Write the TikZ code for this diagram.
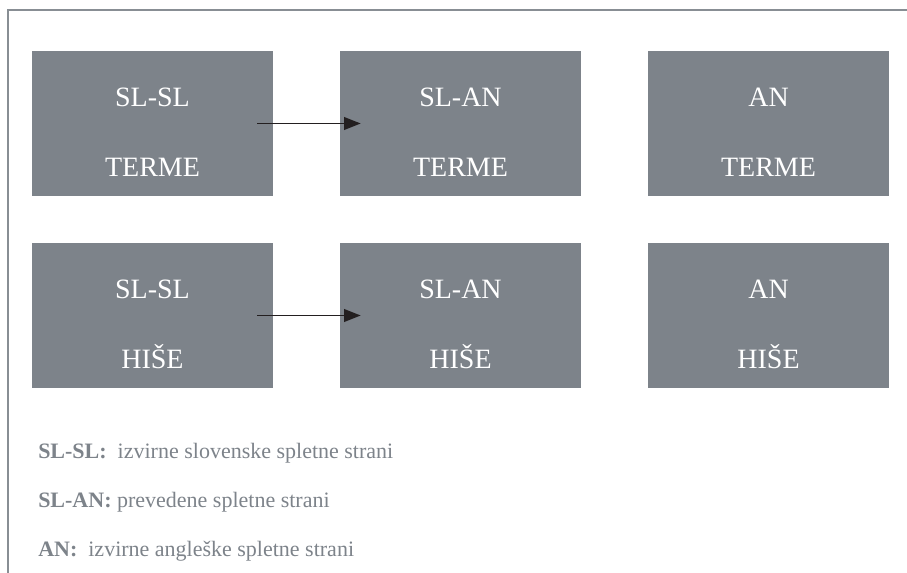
\documentclass[tikz,border=0pt]{standalone}
\usepackage{fontspec}
\setmainfont{Liberation Serif}
\usepackage{tikz}
\usetikzlibrary{arrows.meta}

\definecolor{boxgray}{RGB}{125,131,138}
\definecolor{framegray}{RGB}{136,142,148}
\definecolor{arrowblack}{RGB}{35,31,32}

\tikzset{
    termbox/.style={fill=boxgray, minimum width=180.75pt, minimum height=108.75pt, inner sep=0pt},
    boxlabel/.style={text=white, font=\fontsize{21}{24}\selectfont, anchor=base, inner sep=0pt},
    legend/.style={text=boxgray, font=\fontsize{16.5}{19}\selectfont, anchor=base west, inner sep=0pt},
    link/.style={draw=arrowblack, line width=1.4pt, -{Triangle[length=12.5pt,width=9.5pt]}}
}

\begin{document}
\begin{tikzpicture}[x=0.75pt,y=-0.75pt]
                  \useasboundingbox (0,0) rectangle (907,573);
                  % frame
                  \draw[framegray, line width=1.8pt] (8,573) -- (8,10) -- (907,10);
                  % boxes
                  \node[termbox] (t1) at (152.5,123.5) {};
                  \node[termbox] (t2) at (460.5,123.5) {};
                  \node[termbox] (t3) at (768.5,123.5) {};
                  \node[termbox] (h1) at (152.5,315.5) {};
                  \node[termbox] (h2) at (460.5,315.5) {};
                  \node[termbox] (h3) at (768.5,315.5) {};
                  \foreach \n/\a/\b in {t1/SL-SL/TERME, t2/SL-AN/TERME, t3/AN/TERME,
                                        h1/SL-SL/HIŠE, h2/SL-AN/HIŠE, h3/AN/HIŠE} {
                      \node[boxlabel] (\n-top) at ([yshift=-42pt]\n.north) {\a};
                      \node[boxlabel] (\n-bot) at ([yshift=-94.5pt]\n.north) {\b};
                  }
                  % arrows
                  \draw[link] ([xshift=-12pt]t1.east) -- ([xshift=15.75pt]t2.west);
                  \draw[link] ([xshift=-12pt]h1.east) -- ([xshift=15.75pt]h2.west);
                  % legend
                  \node[legend] (leg1) at (38,459) {\textbf{SL-SL:}\ \ izvirne slovenske spletne strani};
                  \node[legend] (leg2) at (38,508) {\textbf{SL-AN:} prevedene spletne strani};
                  \node[legend] (leg3) at (38,556) {\textbf{AN:}\ \ izvirne angleške spletne strani};
              \end{tikzpicture}
\end{document}
